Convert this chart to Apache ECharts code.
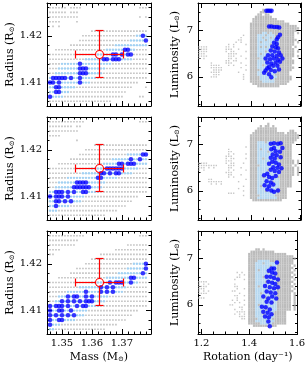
<!DOCTYPE html>
<html><head><meta charset="utf-8">
<script src="https://cdn.jsdelivr.net/npm/echarts@6/dist/echarts.min.js"></script>
<style>html,body{margin:0;padding:0;background:#fff}#c{width:308px;height:366px}</style>
</head><body><div id="c"></div>
<script>
// ---------- model grids ----------
const massGrid = [1.346,1.347,1.348,1.349,1.350,1.351,1.352,1.353,1.354,1.355,1.356,1.357,1.358,1.359,1.360,1.361,1.362,1.363,1.364,1.365,1.366,1.367,1.368,1.369,1.370,1.371,1.372,1.373,1.374,1.375,1.376,1.377,1.378];
const radiusGrid = [1.426,1.425,1.424,1.423,1.422,1.421,1.420,1.419,1.418,1.417,1.416,1.415,1.414,1.413,1.412,1.411,1.410,1.409,1.408,1.407,1.406];
const rotGridSlow = [1.19,1.20,1.21,1.22,1.23,1.24,1.25,1.26,1.27,1.28,1.29,1.30,1.31,1.32,1.33,1.34,1.35,1.36,1.37,1.38];
const rotGridFast = [1.39,1.40,1.41,1.42,1.43,1.44,1.45,1.46,1.47,1.48,1.49,1.50,1.51,1.52,1.53,1.54,1.55,1.56,1.57,1.58,1.59];
const lumGrid = [7.45,7.40,7.35,7.30,7.25,7.20,7.15,7.10,7.05,7.00,6.95,6.90,6.85,6.80,6.75,6.70,6.65,6.60,6.55,6.50,6.45,6.40,6.35,6.30,6.25,6.20,6.15,6.10,6.05,6.00,5.95,5.90,5.85,5.80,5.75,5.70,5.65,5.60,5.55];

// tick labels
const massTicks = [1.35, 1.36, 1.37];
const radiusTicks = [1.41, 1.42];
const rotTicks = [1.2, 1.4, 1.6];
const lumTicks = [6, 7];

// observed star (error bars)
const obsMass = 1.3624, obsMassErr = 0.008;
const obsRadius = 1.4162, obsRadiusErr = 0.005;

// Mass-radius occupancy masks: o = grey model, c = light-blue model, B = blue model
const maskTL = [
 "oooooo.oooo" + "..................." + "ooo",
 "oooooo.ooo" + ".......................",
 "oooooooooo" + "...................." + "o.o",
 "oooo" + "....." + "o" + ".......................",
 ".o.o" + ".............................",
 ".............." + "ooooooooooooooooooo",
 "..........." + "oooooooooooooooooo" + "ccBc",
 ".........." + "ooooooooooooooooo" + "cccccB",
 "......." + "ooooooooooooooo" + "ccccccccccc",
 ".." + "ooooooooooooooooo" + "ccccccBBccoooo",
 "oooooooooooooooo" + "cccccBBcBcBBooooo",
 "oooooooooooo" + "ccccccBBcBBBccccooooo",
 "oooocccccc" + "B" + "cccccccccc" + "oooooooooooo",
 "ooocccccccBBBcccccc" + "oooooooooooooo",
 "oocccccccc" + "BBB" + "ccccc" + "ooooooooooooooo",
 "cBBBBBcBccBccccc" + "ooooooooooooooooo",
 "BBcBccccccBccc" + "oooooooooooooooo" + "...",
 "ccBBccccc" + "ooooooooooooooooooo" + "....o",
 "ccBBccc" + "ooooooooooooooooooo" + ".......",
 "Bcccc" + "oooooooooooooooooooo" + ".....oo.",
 "ooooooooooooooooooooo" + "............"
];
const maskML = [
 "oooooooooooo" + ".................." + "ooo",
 "oooooooo" + "." + "oo" + "......................",
 "oooooooooo" + ".......................",
 "oooo" + ".............................",
 "........." + "o" + ".......................",
 "..............." + "oooooooooooooooooo",
 "............" + "ooooooooooooooooooooo",
 ".........." + "oooooooooooooooo" + "ccccc" + "BB",
 "......." + "oooooooooooooo" + "cccccc" + "B" + "cc" + "B" + "cc",
 "..." + "ooooooooooooooo" + "ccccc" + "BB" + "c" + "BBB" + "cccc",
 "oooooooooooooo" + "ccccc" + "BBBBBB" + "ccccc" + "ooo",
 "ooooooooooo" + "cccccc" + "BB" + "c" + "B" + "c" + "BB" + "cccc" + "ooooo",
 "oooooo" + "cccccccccc" + "BB" + "ccccc" + "oooooooooo",
 "ooo" + "cccccc" + "BBBB" + "cccccc" + "oooooooooooooo",
 "oo" + "cccccc" + "BBBBBB" + "cccc" + "ooooooooooooooo",
 "cc" + "BBB" + "c" + "B" + "c" + "B" + "cc" + "BB" + "cccc" + "oooooooooooooooo",
 "B" + "c" + "BBB" + "c" + "B" + "ccccc" + "oooooooooooooooooo" + "...",
 "cc" + "BB" + "c" + "B" + "c" + "B" + "ccc" + "ooooooooooooooooo" + ".....",
 "cc" + "B" + "cccc" + "ooooooooooooooooooo" + ".......",
 "ccc" + "oooooooooooooooooooo" + "..........",
 "ooooooooooooooooooo" + ".............."
];
const maskBL = [
 "oooooooooooo" + ".................." + "ooo",
 "oooooooooo" + ".......................",
 "ooooooooo" + "................." + "ooooooo",
 "oooo" + ".................." + "ooooooooooo",
 "oo" + "..............." + "oooooooooooooooo",
 ".............." + "ooooooooooooooooooo",
 "............" + "oooooooooooooooo" + "cccc" + "B",
 "........." + "ooooooooooooooooo" + "cccccc" + "B",
 "......." + "oooooooooooooooo" + "cccccccc" + "B" + "c",
 "..." + "oooooooooooooooo" + "cccccccc" + "BB" + "cccc",
 "oooooooooooooo" + "cccccc" + "B" + "c" + "BBB" + "cc" + "B" + "ccooo",
 "oooooooooo" + "ccccccc" + "B" + "c" + "B" + "c" + "B" + "cccc" + "ooooooo",
 "oooooo" + "cccccc" + "B" + "cccc" + "B" + "c" + "B" + "c" + "B" + "ccc" + "oooooooo",
 "ooo" + "ccc" + "B" + "c" + "BB" + "cc" + "B" + "c" + "B" + "ccccc" + "ooooooooooooo",
 "oo" + "cc" + "B" + "c" + "B" + "c" + "B" + "c" + "B" + "c" + "BBB" + "cccc" + "oooooooooooooo",
 "B" + "c" + "BBB" + "c" + "B" + "cc" + "B" + "c" + "BB" + "cccc" + "oooooooooooooooo",
 "B" + "cc" + "BB" + "cc" + "B" + "ccccc" + "ooooooooooooooooo" + "...",
 "BcBcBcBcB" + "ccc" + "oooooooooooooooo" + ".....",
 "B" + "cc" + "BB" + "cccc" + "ooooooooooooooooo" + ".......",
 "B" + "ccc" + "ooooooooooooooooooo" + "..........",
 "cc" + "ooooooooooooooooo" + ".............."
];

// Rotation-luminosity occupancy masks: [slow part (rotGridSlow), fast part (rotGridFast)]
const E20 = "....................", E21 = ".....................";
const maskTR = [
 [E20, "......o.o............"],
 [E20, ".....ooo.o..........."],
 [E20, "....oo.oo............"],
 [E20, "...ooooooo..........."],
 [E20, "..oooooooooo........."],
 [E20, "..ooooooooooooo......"],
 [E20, ".oooooooooooooooo...."],
 [E20, ".ooooooooooooooooooo."],
 [E20, ".oooooooooooooooooooo"],
 [E20, ".ooooooooooooooooooo."],
 [E20, ".oooooccocooooooooo.o"],
 ["..................o.", ".ooocccocccoooooooo.."],
 [".................o..", ".oooccoccocoooooooo.."],
 ["................oo..", ".ooocccocccccooooooo."],
 ["...............o.o..", ".ooococccccocoooooo.o"],
 ["............o.o....o", ".ooocccccoccooooooo."],
 ["oooo.......oo.o.....", ".ooocococcccoooooo.o"],
 ["oooo.......ooo..o...", ".oooccccccocooooooo."],
 ["oooo.......o.oo....o", ".ooocccocccccoooooo.o"],
 ["ooo.........oooo....", ".ooococcccccooooooo."],
 ["oooo........ooo..o..", ".oooccccccccooooooo.o"],
 ["o.o.........oo.o...o", ".oooocccccccoooooo.."],
 ["...........oo.oo....", ".ooocccocccccoooooo.."],
 [".....o.....ooo...o..", ".ooocccccccocoooooo.."],
 [".....oooo...o.o....o", ".oooccocccccoooooo.."],
 [".....ooooo.......o..", ".ooocccccccccoooooo.."],
 ["......oooo.........o", ".oooocccccocoooooo.."],
 [".....oooo.......o...", ".oooccccocccooooo...."],
 ["......ooo.........o.", ".ooocccccccoooooo...."],
 [".....ooo..........o.", ".oooocccccccoooooo..."],
 ["..................o.", ".ooooccccocooooooo..."],
 [E20, ".ooooocccccoooooo...."],
 [E20, "..oooooooooooooo....."],
 [E20, "....ooooooooo........"]
];
const maskMR = [
 [E20, "........o............"],
 [E20, ".....o.oo.o.........."],
 [E20, "....oooooooo........."],
 [E20, "...ooooooooo.....oo.."],
 [E20, "..ooooooooooooo.oooo."],
 [E20, ".oooooooooooooooooooo"],
 [E20, ".oooooooooooooooooooo"],
 [E20, ".ooooooooooooooooooo."],
 [E20, ".ooocccocccoooooooo.."],
 [E20, ".oooccccccoccooooo..."],
 ["...................o", ".ooocccccccccooooo..."],
 ["............o.......", ".ooococccccccooooo..."],
 ["............oo......", ".oooccccoccccooooo..."],
 ["............o.o....o", ".ooocccccccocooooo..."],
 ["...........ooo......", ".ooocccccccccooooo..."],
 ["...........o.oo....o", ".oooccocccccoooooo..."],
 ["...........ooo......", ".ooocccccccccoooooo.o"],
 ["oooo.......o.oo...o.", ".ooocccccocccoooooo.o"],
 ["oooooooo....ooo.....", ".oooocccccccoooooo.o."],
 ["ooo.o.o.....oo...o..", ".ooocccccccccoooooo.o"],
 ["o.o.........o.o....o", ".oooccccoccccoooooo.o"],
 ["...........ooo......", ".ooocccccccccoooooo.o"],
 ["............oo...o..", ".ooocccccccocoooooo.o"],
 ["............o.o.....", ".oooccocccccoooooo..."],
 ["....oo.............o", ".ooocccccccccooooo..."],
 ["....oooooo......o...", ".oooccccccoccooooo..."],
 [".....o.o.o..........", ".ooocccccccccooooo..."],
 ["..................o.", ".ooococccccccooooo..."],
 ["................o...", ".oooccccccccoooo....."],
 ["..................o.", ".ooocccocccooooo....."],
 ["............ooo.....", ".oooccccccccoooo....."],
 ["..................o.", ".ooooccccccooooo....."],
 [E20, ".oooccccccccoooo....."],
 [E20, "..oooooooooooo......."]
];
const maskBR = [
 [E20, E21], [E20, E21], [E20, E21], [E20, E21], [E20, E21],
 [E20, "....oo.o............."],
 [E20, "..oooooooooo........."],
 [E20, ".oooooooooooooooo...."],
 [E20, ".ooooooooooooooooooo."],
 [E20, ".oooooooooooooooooooo"],
 [E20, ".oooocccccoooooooooo."],
 [E20, ".ooocccocccccooooooo."],
 [E20, ".oooccccccoccoooooo.o"],
 [E20, ".ooocccccccccooooooo."],
 [E20, ".ooococccccccoooooo.o"],
 ["................o.o.", ".ooocccccocccooooooo."],
 [".................o.o", ".oooccccccccooooooo.o"],
 ["................oo..", ".ooocccocccccooooooo."],
 ["...............o...o", ".ooocccccccccoooooo.o"],
 ["oooo................", ".oooccccoccccooooooo."],
 ["o.o.o..........o....", ".ooocccccccccoooooo.o"],
 ["oooo...........oo...", ".ooococccccccooooooo."],
 ["ooo.............o..o", ".ooocccccccocoooooo.o"],
 ["o.o.o.........oo....", ".ooocccccccccooooooo."],
 ["oooo.............o..", ".oooccocccccooooooo.o"],
 ["...............oo..o", ".ooocccccccccoooooo.o"],
 ["ooo.............o...", ".oooccccoccccoooooo.o"],
 ["..............o.o..o", ".ooocccccccccoooooo.o"],
 ["...............o.o..", ".ooocccccccocoooooo.o"],
 [".............oo....o", ".ooococccccccoooooo.o"],
 [".................oo.", ".ooocccccccccoooooo.o"],
 ["...............o..o.", ".oooccccoccccoooooo.o"],
 ["................oooo", ".oooccccccccooooo...."],
 ["...............o.o.o", ".ooocccocccoooooo...."],
 [".................ooo", ".oooccccccccooooo...."],
 ["..................oo", ".ooooccccccoooooo...."],
 [E20, ".oooccccccccooooo...."],
 [E20, ".ooooocccccoooooo...."],
 [E20, "...oooooooooo........"]
];

// blue (best) models in rotation-luminosity plane: [rotation, luminosity]
const blueTR = [[1.462,7.43],[1.469,7.43],[1.476,7.43],[1.483,7.43],
 [1.473,7.09],[1.483,7.09],[1.494,7.08],[1.505,7.08],[1.514,7.07],
 [1.517,6.91],[1.509,6.86],[1.504,6.81],[1.493,6.74],[1.504,6.71],[1.486,6.66],[1.500,6.64],[1.509,6.62],
 [1.480,6.57],[1.496,6.55],[1.513,6.53],[1.469,6.47],[1.486,6.47],[1.504,6.45],[1.520,6.47],
 [1.459,6.40],[1.477,6.38],[1.493,6.40],[1.509,6.37],[1.527,6.40],[1.466,6.31],[1.482,6.29],[1.500,6.31],[1.517,6.33],
 [1.473,6.22],[1.490,6.24],[1.507,6.24],[1.466,6.19],[1.513,6.16],[1.459,6.14],[1.480,6.15],[1.496,6.12],
 [1.453,6.09],[1.473,6.06],[1.482,5.99]];
const blueMR = [[1.480,7.02],[1.493,7.03],[1.509,7.02],[1.520,7.03],[1.527,6.93],[1.493,6.93],[1.482,6.90],
 [1.500,6.86],[1.517,6.85],[1.488,6.79],[1.504,6.77],[1.480,6.72],[1.496,6.70],[1.520,6.73],[1.486,6.63],
 [1.500,6.61],[1.513,6.57],[1.473,6.59],[1.490,6.51],[1.507,6.50],[1.523,6.49],[1.480,6.46],[1.496,6.43],
 [1.513,6.41],[1.466,6.37],[1.453,6.34],[1.473,6.30],[1.486,6.28],[1.500,6.32],[1.463,6.21],[1.480,6.18],
 [1.455,6.12],[1.473,6.10],[1.490,6.14],[1.466,6.03],[1.482,6.01],[1.493,5.98],[1.509,6.01]];
const blueBR = [[1.516,6.92],[1.493,6.79],[1.504,6.79],[1.482,6.74],[1.496,6.70],[1.509,6.68],[1.473,6.61],
 [1.489,6.61],[1.504,6.58],[1.520,6.55],[1.480,6.50],[1.496,6.48],[1.509,6.45],[1.466,6.41],[1.486,6.38],
 [1.504,6.36],[1.520,6.38],[1.473,6.29],[1.490,6.27],[1.509,6.25],[1.459,6.18],[1.480,6.14],[1.496,6.18],
 [1.513,6.14],[1.473,6.07],[1.493,6.05],[1.453,5.96],[1.469,5.95],[1.486,5.90],[1.459,5.85],[1.477,5.83],
 [1.493,5.80],[1.466,5.75],[1.482,5.73],[1.480,5.64],[1.486,5.54]];

// ---------- build chart ----------
const FONT = 'DejaVu Serif';
function pick(mask, xs, ys, ch, part) {
  const out = [];
  mask.forEach((row, i) => {
    const s = part == null ? row : row[part];
    for (let j = 0; j < s.length && j < xs.length; j++) if (s[j] === ch) out.push([xs[j], ys[i]]);
  });
  return out;
}
const nameStyle = {
  fontFamily: FONT, fontSize: 11, color: '#000',
  rich: { n: {fontFamily: FONT, fontSize: 11, color: '#000'},
          s: {fontFamily: FONT, fontSize: 7, color: '#000', verticalAlign: 'bottom'} }
};
const colsPos = [{left: 47, width: 104}, {left: 198, width: 103}];
const rowTops = [3, 117, 231];
const grids = [], xAxes = [], yAxes = [], series = [];

function axis(min, max, itv, minorSplit, extra) {
  return Object.assign({
    type: 'value', min, max, minInterval: itv, maxInterval: itv,
    splitNumber: Math.max(1, Math.round((max - min) / itv)),
    axisLine: {show: true, onZero: false, lineStyle: {color: '#000', width: 1}},
    axisTick: {show: true, inside: true, length: 5, lineStyle: {color: '#000', width: 1}},
    minorTick: {show: true, splitNumber: minorSplit, length: 2.5, lineStyle: {color: '#000', width: 1}},
    splitLine: {show: false}, minorSplitLine: {show: false},
    axisLabel: {show: false}
  }, extra);
}
function tickLabels(values, margin) {
  return {show: true, customValues: values, margin, fontFamily: FONT, fontSize: 10, color: '#000'};
}

const leftMasks = [maskTL, maskML, maskBL];
const rightMasks = [maskTR, maskMR, maskBR];
const blues = [blueTR, blueMR, blueBR];
const snap = v => Math.round(v) + 0.5;
const RED = '#ff0000';

for (let r = 0; r < 3; r++) {
  for (let c = 0; c < 2; c++) {
    const gi = grids.length;
    grids.push({left: colsPos[c].left, width: colsPos[c].width, top: rowTops[r], height: 103});
    const bottomRow = r === 2;
    const sc = (data, symbol, size, color) => ({type: 'scatter', xAxisIndex: 2*gi, yAxisIndex: 2*gi,
      symbol, symbolSize: size, itemStyle: {color}, data, silent: true, z: 2});
    if (c === 0) {
      xAxes.push(axis(1.345, 1.3797, 0.01, 5, Object.assign({gridIndex: gi, position: 'bottom'},
        bottomRow ? {axisLabel: tickLabels(massTicks, 4), name: '{n|Mass (M}{s|⊙}{n|)}', nameLocation: 'middle', nameGap: 18, nameTextStyle: nameStyle} : {})));
      xAxes.push(axis(1.345, 1.3797, 0.01, 5, {gridIndex: gi, position: 'top'}));
      yAxes.push(axis(1.405, 1.427, 0.01, 5, {gridIndex: gi, position: 'left', axisLabel: tickLabels(radiusTicks, 5),
        name: '{n|Radius (R}{s|⊙}{n|)}', nameLocation: 'middle', nameGap: 29, nameTextStyle: nameStyle}));
      yAxes.push(axis(1.405, 1.427, 0.01, 5, {gridIndex: gi, position: 'right'}));
      const m = leftMasks[r];
      series.push(sc(pick(m, massGrid, radiusGrid, 'o'), 'rect', 1.6, '#b0b0b0'));
      series.push(sc(pick(m, massGrid, radiusGrid, 'c'), 'circle', 2.4, '#8cc5ef'));
      series.push(sc(pick(m, massGrid, radiusGrid, 'B'), 'circle', 4.5, '#0000ff'));
      series.push({type: 'custom', xAxisIndex: 2*gi, yAxisIndex: 2*gi, silent: true, z: 20,
        encode: {x: 0, y: 1},
        data: [[obsMass, obsRadius, obsMassErr, obsRadiusErr]],
        renderItem: function (params, api) {
          const mv = api.value(0), rv = api.value(1), em = api.value(2), er = api.value(3);
          const C = api.coord([mv, rv]), L = api.coord([mv - em, rv]), R = api.coord([mv + em, rv]);
          const T = api.coord([mv, rv + er]), B = api.coord([mv, rv - er]);
          const cap = 4;
          const cx = snap(C[0]), cy = snap(C[1]);
          const ln = (x1, y1, x2, y2) => ({type: 'line', shape: {x1, y1, x2, y2},
            style: {stroke: RED, lineWidth: 1.2, fill: null, opacity: 1}, z2: 5});
          return {type: 'group', children: [
            ln(snap(L[0]), cy, cx - 4, cy), ln(cx + 4, cy, snap(R[0]), cy),
            ln(cx, snap(T[1]), cx, cy - 4), ln(cx, cy + 4, cx, snap(B[1])),
            ln(snap(L[0]), cy - cap, snap(L[0]), cy + cap), ln(snap(R[0]), cy - cap, snap(R[0]), cy + cap),
            ln(cx - cap, snap(T[1]), cx + cap, snap(T[1])), ln(cx - cap, snap(B[1]), cx + cap, snap(B[1])),
            {type: 'circle', shape: {cx: cx, cy: cy, r: 4}, style: {stroke: RED, fill: null, lineWidth: 1.1}, z2: 6}
          ]};
        }});
    } else {
      xAxes.push(axis(1.186, 1.602, 0.2, 4, Object.assign({gridIndex: gi, position: 'bottom'},
        bottomRow ? {axisLabel: tickLabels(rotTicks, 4), name: 'Rotation (day⁻¹)', nameLocation: 'middle', nameGap: 18, nameTextStyle: nameStyle} : {})));
      xAxes.push(axis(1.186, 1.602, 0.2, 4, {gridIndex: gi, position: 'top'}));
      yAxes.push(axis(5.37, 7.6, 1, 5, {gridIndex: gi, position: 'left', axisLabel: tickLabels(lumTicks, 5),
        name: '{n|Luminosity (L}{s|⊙}{n|)}', nameLocation: 'middle', nameGap: 17, nameTextStyle: nameStyle}));
      yAxes.push(axis(5.37, 7.6, 1, 5, {gridIndex: gi, position: 'right'}));
      const m = rightMasks[r];
      series.push(sc(pick(m, rotGridSlow, lumGrid, 'o', 0), 'rect', [1.4, 1.4], '#b8b8b8'));
      series.push(sc(pick(m, rotGridFast, lumGrid, 'o', 1), 'rect', [2.2, 2.4], '#ababab'));
      series.push(sc(pick(m, rotGridFast, lumGrid, 'c', 1), 'rect', [2.2, 2.4], '#a2cdec'));
      series.push(sc(blues[r], 'circle', 4.5, '#0000ff'));
    }
  }
}

const chart = echarts.init(document.getElementById('c'), null, {renderer: 'canvas'});
chart.setOption({
  animation: false,
  backgroundColor: '#fff',
  grid: grids, xAxis: xAxes, yAxis: yAxes, series: series
});
</script>
</body></html>
